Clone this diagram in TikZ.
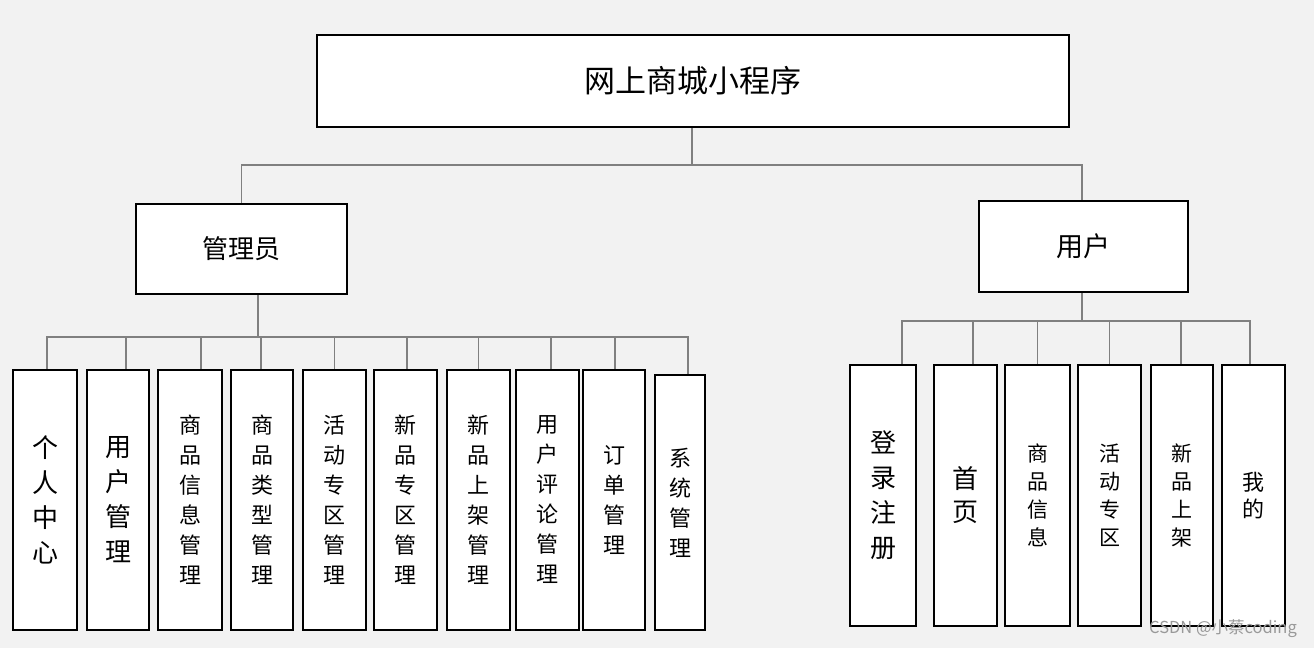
\documentclass[tikz,border=0pt]{standalone}
\usepackage{fontspec}
\setmainfont{Noto Sans CJK SC}
\begin{document}
\begin{tikzpicture}[x=1pt,y=-1pt,
  box/.style={draw=black,line width=2.2pt,fill=white,inner sep=0pt,align=center},
  conn/.style={draw=black!50,line width=1.4pt},
  bigv/.style={font=\fontsize{26}{35}\selectfont},
  smallv/.style={font=\fontsize{22}{30}\selectfont},
  usmall/.style={font=\fontsize{21}{28}\selectfont}]
\fill[black!5] (0,0) rectangle (1314,648);
\useasboundingbox (0,0) rectangle (1314,648);
% top
\node[box,minimum width=752pt,minimum height=92pt,font=\fontsize{31}{36}\selectfont] (top) at (693,81) {网上商城小程序};
\node[box,minimum width=211pt,minimum height=90pt,font=\fontsize{26}{32}\selectfont] (adm) at (241.5,249) {管理员};
\node[box,minimum width=209pt,minimum height=91pt,font=\fontsize{27}{32}\selectfont] (usr) at (1083.5,246.5) {用户};
% admin children
\node[box,bigv,minimum width=64pt,minimum height=260pt] (a1) at (45,500) {个\\人\\中\\心};
\node[box,bigv,minimum width=62pt,minimum height=260pt] (a2) at (118,500) {用\\户\\管\\理};
\node[box,smallv,minimum width=64pt,minimum height=260pt] (a3) at (190,500) {商\\品\\信\\息\\管\\理};
\node[box,smallv,minimum width=62pt,minimum height=260pt] (a4) at (262,500) {商\\品\\类\\型\\管\\理};
\node[box,smallv,minimum width=63pt,minimum height=260pt] (a5) at (334.5,500) {活\\动\\专\\区\\管\\理};
\node[box,smallv,minimum width=63pt,minimum height=260pt] (a6) at (405.5,500) {新\\品\\专\\区\\管\\理};
\node[box,smallv,minimum width=63pt,minimum height=260pt] (a7) at (478.5,500) {新\\品\\上\\架\\管\\理};
\node[box,smallv,minimum width=63pt,minimum height=260pt] (a8) at (547.5,500) {用\\户\\评\\论\\管\\理};
\node[box,smallv,minimum width=62pt,minimum height=260pt] (a9) at (614,500) {订\\单\\管\\理};
\node[box,smallv,minimum width=50pt,minimum height=255pt] (a10) at (680,502.5) {系\\统\\管\\理};
% user children
\node[box,bigv,minimum width=66pt,minimum height=261pt] (u1) at (883,495.5) {登\\录\\注\\册};
\node[box,bigv,minimum width=63pt,minimum height=261pt,font=\fontsize{26}{33}\selectfont] (u2) at (965.5,495.5) {首\\页};
\node[box,usmall,minimum width=65pt,minimum height=261pt] (u3) at (1037.5,495.5) {商\\品\\信\\息};
\node[box,usmall,minimum width=63pt,minimum height=261pt] (u4) at (1109.5,495.5) {活\\动\\专\\区};
\node[box,usmall,minimum width=62pt,minimum height=261pt] (u5) at (1182,495.5) {新\\品\\上\\架};
\node[box,usmall,minimum width=63pt,minimum height=261pt,font=\fontsize{22}{27}\selectfont] (u6) at (1253.5,495.5) {我\\的};
% connectors
\coordinate (bus) at (692,165);
\coordinate (abus) at (258,337);
\coordinate (ubus) at (1082,321);
\draw[conn] (top.south -| bus) -- (bus);
\draw[conn] (bus) -| (adm.north);
\draw[conn] (bus) -| ([xshift=-1.5pt]usr.north);
\draw[conn] (adm.south -| abus) -- (abus);
\draw[conn] (abus) -| ([xshift=2pt]a1.north);
\draw[conn] (abus) -| ([xshift=8pt]a2.north);
\draw[conn] (abus) -| ([xshift=11pt]a3.north);
\draw[conn] (abus) -| ([xshift=-1pt]a4.north);
\draw[conn] (abus) -| (a5.north);
\draw[conn] (abus) -| ([xshift=1.5pt]a6.north);
\draw[conn] (abus) -| (a7.north);
\draw[conn] (abus) -| ([xshift=3.5pt]a8.north);
\draw[conn] (abus) -| ([xshift=1pt]a9.north);
\draw[conn] (abus) -| ([xshift=8pt]a10.north);
\draw[conn] (usr.south -| ubus) -- (ubus);
\draw[conn] (ubus) -| ([xshift=19pt]u1.north);
\draw[conn] (ubus) -| ([xshift=7.5pt]u2.north);
\draw[conn] (ubus) -| (u3.north);
\draw[conn] (ubus) -| (u4.north);
\draw[conn] (ubus) -| ([xshift=-1pt]u5.north);
\draw[conn] (ubus) -| ([xshift=-3.5pt]u6.north);
% watermark
\node[text=black!40,font=\fontsize{16.5}{18}\selectfont,inner sep=0pt] (wm) at (1223,629) {CSDN @小蔡coding};
\end{tikzpicture}
\end{document}
